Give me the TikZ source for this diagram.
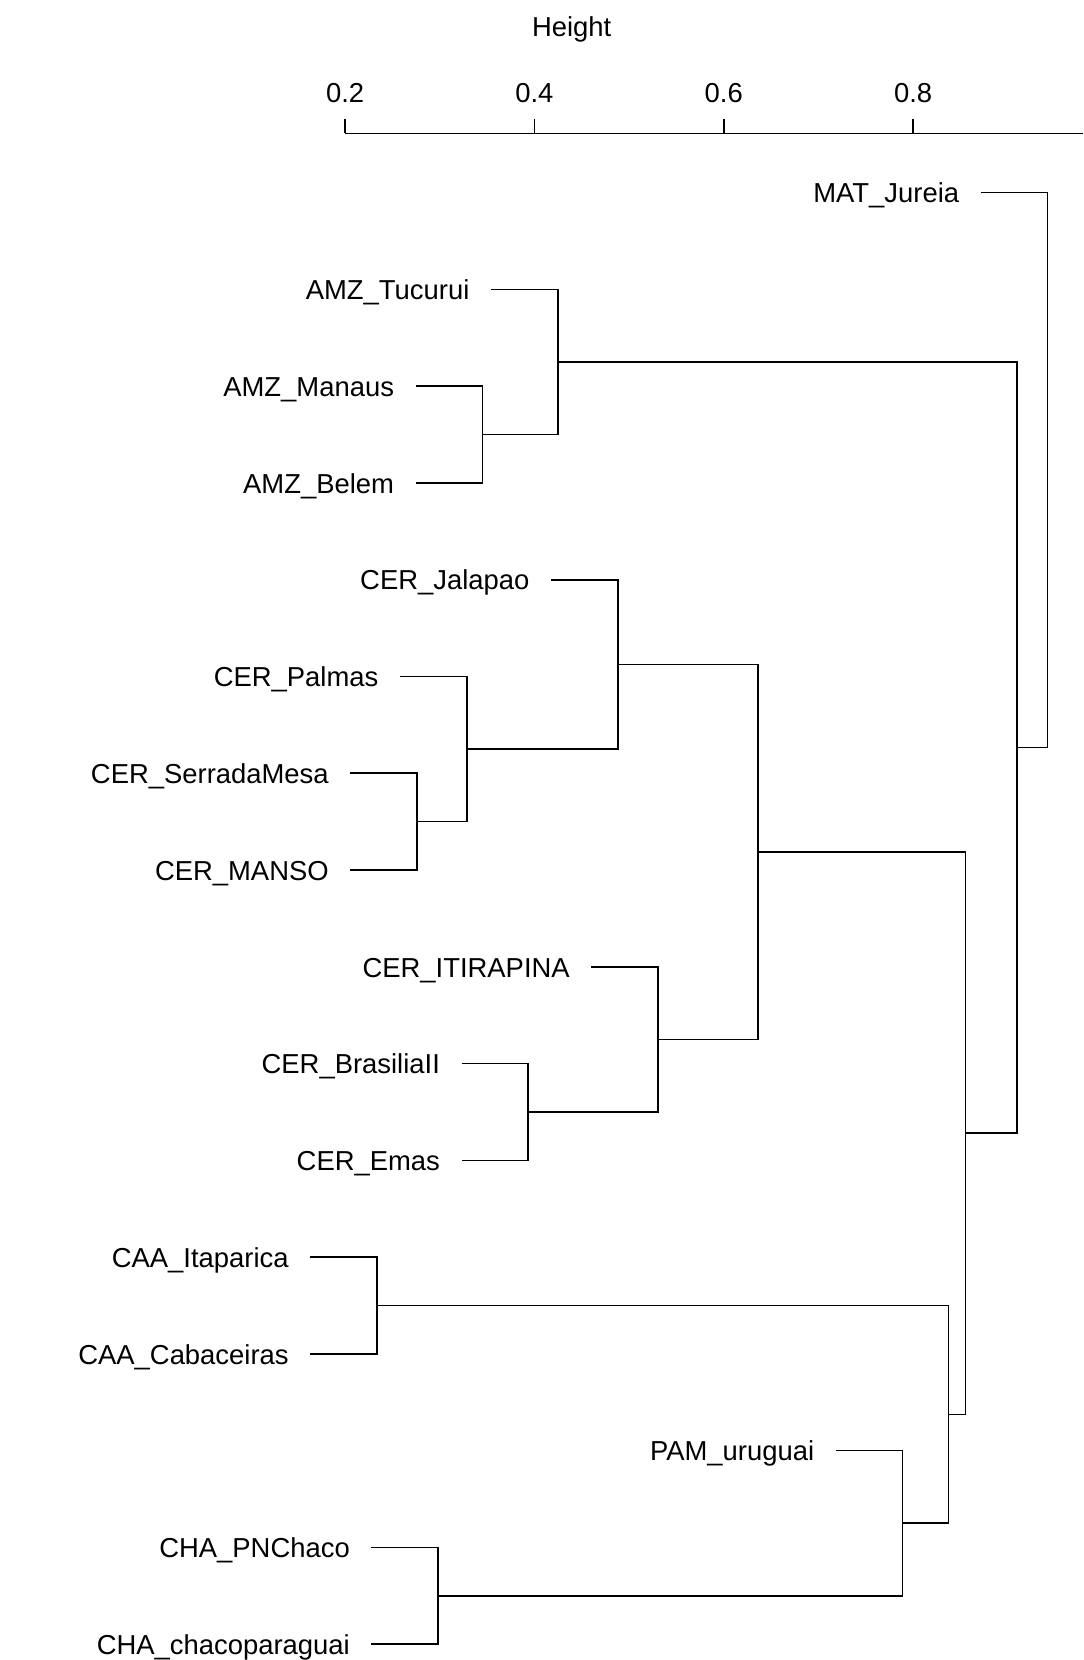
\documentclass[tikz,border=0pt]{standalone}
\usepackage{fontspec}
\setmainfont{Liberation Sans}
\usepackage{tikz}

\begin{document}
\begin{tikzpicture}[x=9.467cm,y=-0.9676cm]
% définition des paramètres
\tikzstyle axe=[color=black,line width=0.45pt]
\tikzstyle branche=[color=black,line width=0.45pt]
\tikzstyle graduation=[inner sep=0pt,font=\fontsize{7.8}{9}\selectfont]
\tikzstyle feuille=[anchor=east,inner xsep=0.21cm,inner ysep=0pt,text height=1.38ex,text depth=0.28ex,font=\fontsize{7.8}{9}\selectfont]
\newcommand{\decal}{0.0704} % longueur des feuilles (en hauteur)
\newcommand{\axey}{0.387}   % position de l'axe
\useasboundingbox (-0.1645,-0.9915) rectangle (0.9795,16.164);

% l'axe
\node[graduation] (hauteur) at (0.4394,-0.686) {Height};
\draw[axe] (0.2,\axey) -- (0.9795,\axey);
\foreach \k in {2,4,6,8}
{
    \draw[axe] (0.\k,\axey) -- (0.\k,0.234);
    \node[graduation] (g\k) at (0.\k,-0.028) {0.\k};
}

% les fusions
\coordinate (mb) at (0.345,3.5);
\coordinate (amz) at (0.4246,2.75);
\coordinate (sm) at (0.276,7.5);
\coordinate (pal) at (0.3285,6.75);
\coordinate (jal) at (0.488,5.875);
\coordinate (be) at (0.3935,10.5);
\coordinate (iti) at (0.5306,9.75);
\coordinate (cer) at (0.6362,7.8125);
\coordinate (caa) at (0.2337,12.5);
\coordinate (cha) at (0.2983,15.5);
\coordinate (pam) at (0.7888,14.75);
\coordinate (sec) at (0.8375,13.625);
\coordinate (seco) at (0.8552,10.71875);
\coordinate (tout) at (0.9099,6.734);
\coordinate (racine) at (0.9419,3.867);

% les feuilles
\node[feuille] (mat) at (0.9419-\decal,1) {MAT\_Jureia};
\node[feuille] (tuc) at (0.4246-\decal,2) {AMZ\_Tucurui};
\node[feuille] (man) at (0.345-\decal,3) {AMZ\_Manaus};
\node[feuille] (bel) at (0.345-\decal,4) {AMZ\_Belem};
\node[feuille] (jala) at (0.488-\decal,5) {CER\_Jalapao};
\node[feuille] (palm) at (0.3285-\decal,6) {CER\_Palmas};
\node[feuille] (serra) at (0.276-\decal,7) {CER\_SerradaMesa};
\node[feuille] (manso) at (0.276-\decal,8) {CER\_MANSO};
\node[feuille] (itir) at (0.5306-\decal,9) {CER\_ITIRAPINA};
\node[feuille] (bras) at (0.3935-\decal,10) {CER\_BrasiliaII};
\node[feuille] (emas) at (0.3935-\decal,11) {CER\_Emas};
\node[feuille] (itap) at (0.2337-\decal,12) {CAA\_Itaparica};
\node[feuille] (caba) at (0.2337-\decal,13) {CAA\_Cabaceiras};
\node[feuille] (urug) at (0.7888-\decal,14) {PAM\_uruguai};
\node[feuille] (pnch) at (0.2983-\decal,15) {CHA\_PNChaco};
\node[feuille] (chpa) at (0.2983-\decal,16) {CHA\_chacoparaguai};

% les branches
\draw[branche] (man.east) -| (mb) |- (bel.east);
\draw[branche] (tuc.east) -| (amz) |- (mb);
\draw[branche] (serra.east) -| (sm) |- (manso.east);
\draw[branche] (palm.east) -| (pal) |- (sm);
\draw[branche] (jala.east) -| (jal) |- (pal);
\draw[branche] (bras.east) -| (be) |- (emas.east);
\draw[branche] (itir.east) -| (iti) |- (be);
\draw[branche] (jal) -| (cer) |- (iti);
\draw[branche] (itap.east) -| (caa) |- (caba.east);
\draw[branche] (pnch.east) -| (cha) |- (chpa.east);
\draw[branche] (urug.east) -| (pam) |- (cha);
\draw[branche] (caa) -| (sec) |- (pam);
\draw[branche] (cer) -| (seco) |- (sec);
\draw[branche] (amz) -| (tout) |- (seco);
\draw[branche] (mat.east) -| (racine) |- (tout);
\end{tikzpicture}
\end{document}
